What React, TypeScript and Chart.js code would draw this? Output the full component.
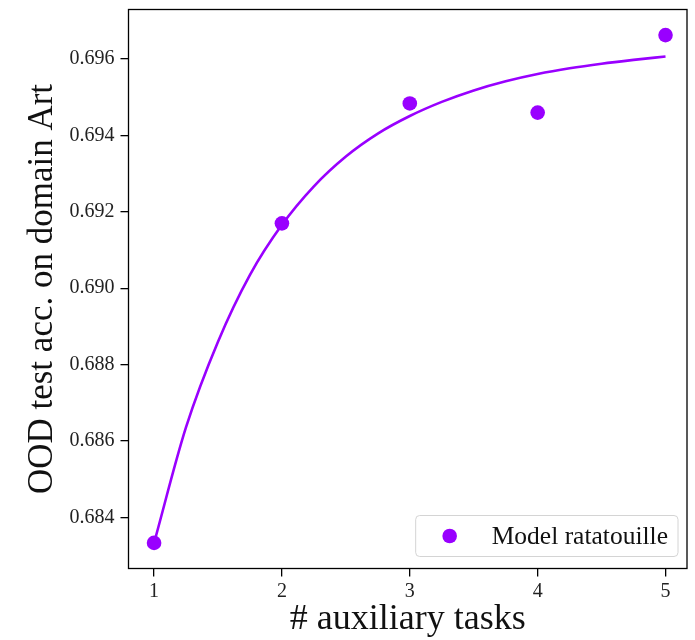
import React, { useEffect, useRef } from "react";
import { Chart, registerables } from "chart.js";

Chart.register(...registerables);

// ---- data ----
const xTicks = [1, 2, 3, 4, 5];
const yTicks = [0.684, 0.686, 0.688, 0.69, 0.692, 0.694, 0.696];
const tasks = [1, 2, 3, 4, 5];
const accuracy = [0.68333, 0.6917, 0.69484, 0.6946, 0.69663];
// fitted curve
const fitX = [1, 1.25, 1.5, 1.75, 2, 2.25, 2.5, 2.75, 3, 3.25, 3.5, 3.75, 4, 4.25, 4.5, 4.75, 5];
const fitY = [
  0.68333, 0.68636, 0.6886, 0.69035, 0.69166, 0.69267, 0.69345, 0.69405, 0.69451,
  0.69488, 0.69518, 0.69542, 0.69561, 0.69576, 0.69588, 0.69598, 0.69607,
];
const seriesLabel = "Model ratatouille";
const xTitle = "# auxiliary tasks";
const yTitle = "OOD test acc. on domain Art";

const PURPLE = "#9900ff";
const FONT = "'Liberation Serif', 'DejaVu Serif', serif";

export default function App() {
  const ref = useRef<HTMLCanvasElement>(null);

  useEffect(() => {
    const canvas = ref.current;
    if (!canvas) return;

    const framePlugin = {
      id: "frame",
      afterDatasetsDraw(chart: any) {
        const { ctx, chartArea } = chart;
        ctx.save();
        ctx.strokeStyle = "#000";
        ctx.lineWidth = 1.3;
        ctx.strokeRect(chartArea.left, chartArea.top, chartArea.right - chartArea.left, chartArea.bottom - chartArea.top);
        ctx.restore();
      },
    };

    const legendPlugin = {
      id: "insideLegend",
      afterDraw(chart: any) {
        const { ctx, chartArea } = chart;
        const ds = chart.data.datasets[0];
        ctx.save();
        ctx.font = `25.5px ${FONT}`;
        const tw = ctx.measureText(ds.label).width;
        const h = 41;
        const w = 76 + tw + 10;
        const right = chartArea.right - 9;
        const bottom = chartArea.bottom - 12;
        const left = right - w;
        const top = bottom - h;
        ctx.beginPath();
        ctx.roundRect(left, top, w, h, 4);
        ctx.fillStyle = "rgba(255,255,255,0.85)";
        ctx.fill();
        ctx.strokeStyle = "#d4d4d4";
        ctx.lineWidth = 1;
        ctx.stroke();
        ctx.beginPath();
        ctx.arc(left + 34, top + h / 2, 7.3, 0, Math.PI * 2);
        ctx.fillStyle = ds.backgroundColor;
        ctx.fill();
        ctx.fillStyle = "#111";
        ctx.textBaseline = "middle";
        ctx.textAlign = "left";
        ctx.fillText(ds.label, left + 76, top + h / 2 + 1);
        ctx.restore();
      },
    };

    const chart = new Chart(canvas, {
      type: "scatter",
      data: {
        datasets: [
          {
            label: seriesLabel,
            data: tasks.map((t, i) => ({ x: t, y: accuracy[i] })),
            backgroundColor: PURPLE,
            borderColor: PURPLE,
            pointRadius: 7.3,
            pointHoverRadius: 7.3,
            borderWidth: 0,
            order: 0,
          },
          {
            label: "fit",
            type: "line",
            data: fitX.map((x, i) => ({ x, y: fitY[i] })),
            borderColor: PURPLE,
            backgroundColor: PURPLE,
            borderWidth: 2.6,
            pointRadius: 0,
            showLine: true,
            fill: false,
            cubicInterpolationMode: "monotone",
            order: 1,
          } as any,
        ],
      },
      options: {
        animation: false,
        responsive: false,
        devicePixelRatio: 1,
        layout: { padding: { top: 9.5, right: 8, bottom: 0, left: 0 } },
        plugins: {
          legend: { display: false },
          tooltip: { enabled: false },
        },
        scales: {
          x: {
            type: "linear",
            min: 0.8,
            max: 5.168,
            afterBuildTicks: (scale: any) => {
              scale.ticks = xTicks.map((v) => ({ value: v }));
            },
            afterFit: (scale: any) => {
              scale.height = 71.5;
              scale.paddingLeft = 0;
              scale.paddingRight = 0;
              scale.paddingTop = 0;
              scale.paddingBottom = 0;
            },
            border: { display: false },
            grid: {
              display: true,
              drawOnChartArea: false,
              drawTicks: true,
              tickLength: 8,
              color: "#000",
              lineWidth: 1.3,
            },
            ticks: {
              color: "#222",
              padding: 3,
              maxRotation: 0,
              font: { family: FONT, size: 20 },
              callback: (v: any) => String(v),
            },
            title: {
              display: true,
              text: xTitle,
              color: "#111",
              font: { family: FONT, size: 36, lineHeight: 1 },
              padding: { top: 0, bottom: 2 },
            },
          },
          y: {
            type: "linear",
            min: 0.68266,
            max: 0.6973,
            afterBuildTicks: (scale: any) => {
              scale.ticks = yTicks.map((v) => ({ value: v }));
            },
            afterFit: (scale: any) => {
              scale.width = 128.5;
              scale.paddingLeft = 0;
              scale.paddingRight = 0;
              scale.paddingTop = 0;
              scale.paddingBottom = 0;
            },
            border: { display: false },
            grid: {
              display: true,
              drawOnChartArea: false,
              drawTicks: true,
              tickLength: 8,
              color: "#000",
              lineWidth: 1.3,
            },
            ticks: {
              color: "#222",
              padding: 6,
              font: { family: FONT, size: 20 },
              callback: (v: any) => Number(v).toFixed(3),
            },
            title: {
              display: true,
              text: yTitle,
              color: "#111",
              font: { family: FONT, size: 35, lineHeight: 1 },
              padding: { top: 25, bottom: 0 },
            },
          },
        },
      },
      plugins: [framePlugin, legendPlugin],
    });

    return () => chart.destroy();
  }, []);

  return (
    <div style={{ position: "fixed", left: 0, top: 0, width: 695, height: 640, background: "#fff" }}>
      <canvas ref={ref} width={695} height={640} style={{ width: 695, height: 640, display: "block" }} />
    </div>
  );
}
